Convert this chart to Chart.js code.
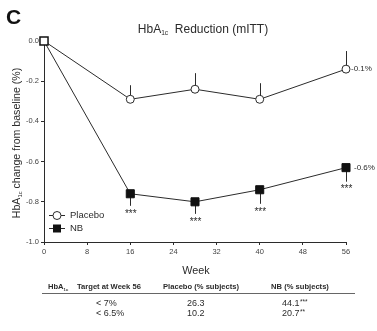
<!DOCTYPE html>
<html>
<head>
<meta charset="utf-8">
<script src="https://cdn.jsdelivr.net/npm/chart.js@4.4.1/dist/chart.umd.min.js"></script>
<style>
  html, body { margin: 0; padding: 0; background: #fff; }
  #wrap { width: 377px; height: 331px; position: relative; }
</style>
</head>
<body>
<div id="wrap"><canvas id="c" width="377" height="331"></canvas></div>
<script>
// Mean change in HbA1c (%) from baseline by week
const weeks = [0, 16, 28, 40, 56];
const placeboMean = [0, -0.29, -0.24, -0.29, -0.14];
const placeboSE = [0, 0.07, 0.08, 0.08, 0.09];
const nbMean = [0, -0.76, -0.80, -0.74, -0.63];
const nbSE = [0, 0.06, 0.06, 0.07, 0.07];
const nbSig = ['', '***', '***', '***', '***'];
const endLabels = ['-0.1%', '-0.6%'];
const seriesNames = ['Placebo', 'NB'];

// Week-56 responder table
const tableTargets = ['< 7%', '< 6.5%'];
const tablePlacebo = ['26.3', '10.2'];
const tableNB = ['44.1', '20.7'];
const tableNBSig = ['***', '**'];

const FONT = '"Liberation Sans", Arial, sans-serif';
const INK = '#2b2b2b';

function pts(ys) { return weeks.map((w, i) => ({ x: w, y: ys[i] })); }

// Text with a subscript run: parts = [[text, isSub], ...]
function drawRich(ctx, parts, x, y, size, align, weight) {
  const w = weight ? weight + ' ' : '';
  const subSize = size * 0.55;
  let total = 0;
  parts.forEach(([t, sub]) => {
    ctx.font = w + (sub ? subSize : size) + 'px ' + FONT;
    total += ctx.measureText(t).width;
  });
  let cx = align === 'center' ? x - total / 2 : x;
  ctx.textAlign = 'left';
  ctx.textBaseline = 'alphabetic';
  parts.forEach(([t, sub]) => {
    ctx.font = w + (sub ? subSize : size) + 'px ' + FONT;
    ctx.fillText(t, cx, sub ? y + size * 0.2 : y);
    cx += ctx.measureText(t).width;
  });
}

const errorBars = {
  id: 'errorBars',
  beforeDatasetsDraw(chart) {
    const { ctx, scales: { x, y } } = chart;
    ctx.save();
    ctx.strokeStyle = INK;
    ctx.lineWidth = 1;
    weeks.forEach((w, i) => {
      const px = Math.round(x.getPixelForValue(w)) + 0.5;
      if (placeboSE[i] > 0) {
        ctx.beginPath();
        ctx.moveTo(px, y.getPixelForValue(placeboMean[i]));
        ctx.lineTo(px, y.getPixelForValue(placeboMean[i] + placeboSE[i]));
        ctx.stroke();
      }
      if (nbSE[i] > 0) {
        ctx.beginPath();
        ctx.moveTo(px, y.getPixelForValue(nbMean[i]));
        ctx.lineTo(px, y.getPixelForValue(nbMean[i] - nbSE[i]));
        ctx.stroke();
      }
    });
    ctx.restore();
  }
};

const annotations = {
  id: 'annotations',
  afterDraw(chart) {
    const { ctx, scales: { x, y }, chartArea } = chart;
    ctx.save();
    ctx.fillStyle = INK;

    // Panel letter
    ctx.font = 'bold 21px ' + FONT;
    ctx.textAlign = 'left';
    ctx.textBaseline = 'alphabetic';
    ctx.fillStyle = '#111';
    ctx.fillText('C', 6, 24);
    ctx.fillStyle = INK;

    // Title
    drawRich(ctx, [['HbA', false], ['1c', true], ['  Reduction (mITT)', false]], 203, 33, 12, 'center');

    // Y axis title (rotated)
    ctx.save();
    ctx.translate(20, 143);
    ctx.rotate(-Math.PI / 2);
    drawRich(ctx, [['HbA', false], ['1c', true], [' change from baseline (%)', false]], 0, 0, 10.6, 'center');
    ctx.restore();

    // X axis title
    ctx.font = '10.8px ' + FONT;
    ctx.textAlign = 'center';
    ctx.textBaseline = 'middle';
    ctx.fillText('Week', 196, 271);

    // Significance stars under NB error bars
    ctx.font = '10px ' + FONT;
    ctx.textBaseline = 'top';
    weeks.forEach((w, i) => {
      if (!nbSig[i]) return;
      ctx.fillText(nbSig[i], x.getPixelForValue(w) + 0.5, y.getPixelForValue(nbMean[i] - nbSE[i]) + 3);
    });

    // End-of-line value labels
    ctx.font = '8px ' + FONT;
    ctx.textAlign = 'left';
    ctx.textBaseline = 'middle';
    const last = weeks.length - 1;
    ctx.fillText(endLabels[0], x.getPixelForValue(weeks[last]) + 5, y.getPixelForValue(placeboMean[last]));
    ctx.fillText(endLabels[1], x.getPixelForValue(weeks[last]) + 8, y.getPixelForValue(nbMean[last]));

    // Legend inside the plot
    const lx = chartArea.left + 13;
    const ly = [215, 228];
    ctx.strokeStyle = INK;
    ctx.lineWidth = 1;
    ly.forEach((yy) => {
      ctx.beginPath();
      ctx.moveTo(lx - 8, yy + 0.5);
      ctx.lineTo(lx + 8, yy + 0.5);
      ctx.stroke();
    });
    ctx.beginPath();
    ctx.arc(lx, ly[0] + 0.5, 4, 0, Math.PI * 2);
    ctx.fillStyle = '#fff';
    ctx.fill();
    ctx.stroke();
    ctx.fillStyle = '#111';
    ctx.fillRect(lx - 4, ly[1] - 3.5, 8, 8);
    ctx.fillStyle = INK;
    ctx.font = '9.5px ' + FONT;
    ctx.textAlign = 'left';
    ctx.textBaseline = 'middle';
    ctx.fillText(seriesNames[0], lx + 13, ly[0] + 0.5);
    ctx.fillText(seriesNames[1], lx + 13, ly[1] + 0.5);

    // Responder table
    const colX = [48, 201, 300];
    drawRich(ctx, [['HbA', false], ['1c', true]], colX[0], 289, 7.6, 'left', 'bold');
    ctx.font = 'bold 7.6px ' + FONT;
    ctx.textAlign = 'left';
    ctx.fillText('Target at Week 56', 77, 289);
    ctx.textAlign = 'center';
    ctx.fillText('Placebo (% subjects)', colX[1], 289);
    ctx.fillText('NB (% subjects)', colX[2], 289);

    ctx.strokeStyle = '#666';
    ctx.beginPath();
    ctx.moveTo(42, 293.5);
    ctx.lineTo(355, 293.5);
    ctx.stroke();

    const rowY = [306, 316];
    tableTargets.forEach((t, i) => {
      ctx.font = '9px ' + FONT;
      ctx.textAlign = 'left';
      ctx.fillText(t, 96, rowY[i]);
      ctx.fillText(tablePlacebo[i], 187, rowY[i]);
      ctx.fillText(tableNB[i], 282, rowY[i]);
      const w = ctx.measureText(tableNB[i]).width;
      ctx.font = '6.5px ' + FONT;
      ctx.fillText(tableNBSig[i], 282 + w + 0.5, rowY[i] - 2);
    });

    ctx.restore();
  }
};

new Chart(document.getElementById('c'), {
  type: 'line',
  data: {
    datasets: [
      {
        label: seriesNames[0],
        data: pts(placeboMean),
        borderColor: INK,
        borderWidth: 1,
        pointStyle: 'circle',
        pointRadius: [0, 4, 4, 4, 4],
        pointBackgroundColor: '#fff',
        pointBorderColor: INK,
        pointBorderWidth: 1,
        tension: 0,
        clip: false,
        order: 2
      },
      {
        label: seriesNames[1],
        data: pts(nbMean),
        borderColor: INK,
        borderWidth: 1,
        pointStyle: 'rect',
        pointRadius: 5.7,
        pointBackgroundColor: ['#fff', '#111', '#111', '#111', '#111'],
        pointBorderColor: '#111',
        pointBorderWidth: [1.5, 1, 1, 1, 1],
        tension: 0,
        clip: false,
        order: 1
      }
    ]
  },
  options: {
    responsive: false,
    animation: false,
    events: [],
    layout: { padding: { left: 0, top: 41, right: 31, bottom: 69 } },
    plugins: { legend: { display: false }, tooltip: { enabled: false }, title: { display: false } },
    scales: {
      x: {
        type: 'linear',
        min: 0, max: 56,
        afterFit(s) { s.height = 20; },
        ticks: { stepSize: 8, color: '#444', font: { family: FONT, size: 7.5 }, padding: 2, maxRotation: 0 },
        grid: { drawOnChartArea: false, drawTicks: true, tickLength: 3, color: INK },
        border: { display: true, color: INK, width: 1 }
      },
      y: {
        min: -1.0, max: 0.0,
        afterFit(s) { s.width = 44; },
        ticks: {
          stepSize: 0.2, color: '#444', font: { family: FONT, size: 7.5 }, padding: 2,
          callback: (v) => (Math.abs(v) < 1e-9 ? 0 : v).toFixed(1)
        },
        grid: { drawOnChartArea: false, drawTicks: true, tickLength: 3, color: INK },
        border: { display: true, color: INK, width: 1 }
      }
    }
  },
  plugins: [errorBars, annotations]
});
</script>
</body>
</html>
